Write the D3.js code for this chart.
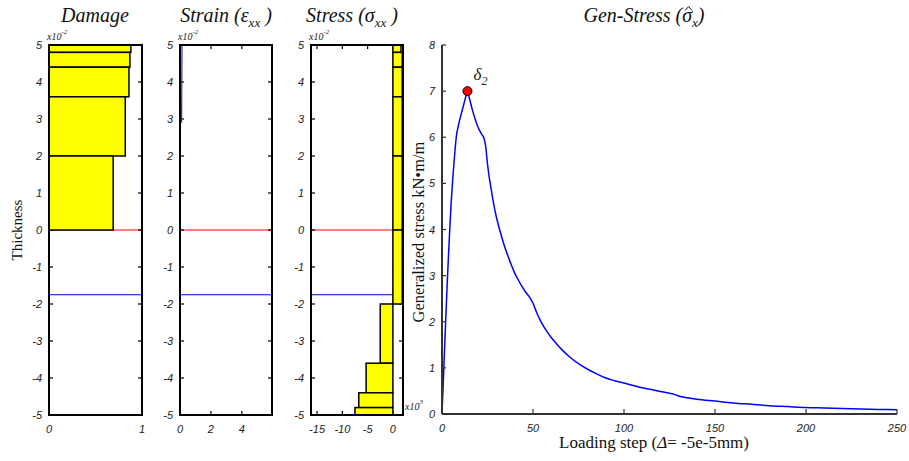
<!DOCTYPE html>
<html>
<head>
<meta charset="utf-8">
<script src="https://cdn.jsdelivr.net/npm/d3@7"></script>
<style>
  html, body { margin: 0; padding: 0; background: #fff; }
  svg { display: block; }
  .serif { font-family: "Liberation Serif", "Times New Roman", serif; }
  .tick { font-family: "Liberation Sans", Arial, sans-serif; font-style: italic; font-size: 11px; fill: #222; }
</style>
</head>
<body>
<svg id="chart" width="909" height="461"></svg>
<script>
// Layer boundaries through the thickness (x10^-2)
const layerTops    = [5.0, 4.8, 4.4, 3.6, 2.0, 0.0, -2.0, -3.6, -4.4, -4.8];
const layerBottoms = [4.8, 4.4, 3.6, 2.0, 0.0, -2.0, -3.6, -4.4, -4.8, -5.0];
// Damage per layer
const damageValues = [0.88, 0.87, 0.86, 0.82, 0.69, 0, 0, 0, 0, 0];
// Stress per layer (x10^3)
const stressValues = [1.6, 1.85, 1.85, 1.85, 1.85, 1.85, -2.5, -5.3, -6.75, -7.5];
// Strain profile near the top face
const strainDepth  = [5.0, 4.2, 3.4, 2.9];
const strainValues = [0.13, 0.12, 0.11, 0.1];
// Reference lines through the thickness
const midPlane = 0;
const neutralAxis = -1.75;

// Generalized stress vs loading step
const loadSteps = [0, 1, 2, 3, 4, 5, 6, 7, 8, 9, 10, 11, 12, 13, 14, 15, 16, 17, 18, 19, 20, 21, 22, 23, 24, 25, 26, 27, 28, 29, 30, 32, 34, 36, 38, 40, 42, 44, 46, 48, 50, 52, 54, 56, 58, 60, 63, 66, 70, 75, 80, 85, 90, 95, 100, 105, 110, 115, 120, 125, 128, 130, 135, 140, 150, 160, 170, 180, 190, 200, 210, 220, 230, 240, 250];
const genStress = [0, 1.0, 2.0, 2.95, 3.8, 4.55, 5.15, 5.65, 6.05, 6.25, 6.42, 6.57, 6.72, 6.87, 7.0, 6.85, 6.7, 6.55, 6.42, 6.3, 6.2, 6.12, 6.05, 5.99, 5.8, 5.42, 5.12, 4.88, 4.64, 4.43, 4.25, 3.95, 3.68, 3.45, 3.24, 3.05, 2.9, 2.76, 2.64, 2.54, 2.4, 2.2, 2.03, 1.89, 1.77, 1.66, 1.52, 1.39, 1.24, 1.09, 0.97, 0.87, 0.78, 0.72, 0.67, 0.62, 0.57, 0.53, 0.49, 0.45, 0.42, 0.39, 0.35, 0.32, 0.28, 0.24, 0.21, 0.18, 0.16, 0.14, 0.13, 0.12, 0.11, 0.1, 0.09];
const peakStep = 14, peakValue = 7.0;

const thicknessTicks = [5, 4, 3, 2, 1, 0, -1, -2, -3, -4, -5];
const damageTicks = [0, 1];
const strainTicks = [0, 2, 4];
const stressTicks = [-15, -10, -5, 0];
const stepTicks = [0, 50, 100, 150, 200, 250];
const genStressTicks = [0, 1, 2, 3, 4, 5, 6, 7, 8];

const svg = d3.select("#chart");
const plotTop = 45, plotBottom = 415;
const y = d3.scaleLinear().domain([-5, 5]).range([plotBottom, plotTop]);
const layers = layerTops.map((t, i) => ({ top: t, bottom: layerBottoms[i], damage: damageValues[i], stress: stressValues[i] }));

function panel(x0, x1, domain) {
  const g = svg.append("g");
  const x = d3.scaleLinear().domain(domain).range([x0, x1]);
  return { g, x };
}

function frame(p, xTicks, opts) {
  const { g, x } = p;
  const [x0, x1] = x.range();
  // reference lines
  g.append("line").attr("x1", x0).attr("x2", x1).attr("y1", y(midPlane)).attr("y2", y(midPlane))
    .attr("stroke", "#ff0000").attr("stroke-width", 1);
  g.append("line").attr("x1", x0).attr("x2", x1).attr("y1", y(neutralAxis)).attr("y2", y(neutralAxis))
    .attr("stroke", "#0000cc").attr("stroke-width", 1);
  // inward ticks on all four sides
  const tl = 4;
  thicknessTicks.forEach(t => {
    g.append("line").attr("x1", x0).attr("x2", x0 + tl).attr("y1", y(t)).attr("y2", y(t)).attr("stroke", "#000").attr("stroke-width", 1.2);
    g.append("line").attr("x1", x1).attr("x2", x1 - tl).attr("y1", y(t)).attr("y2", y(t)).attr("stroke", "#000").attr("stroke-width", 1.2);
    g.append("text").attr("class", "tick").attr("x", x0 - 7).attr("y", y(t) + 4).attr("text-anchor", "end").text(t);
  });
  xTicks.forEach(t => {
    g.append("line").attr("x1", x(t)).attr("x2", x(t)).attr("y1", plotTop).attr("y2", plotTop + tl).attr("stroke", "#000").attr("stroke-width", 1.2);
    g.append("line").attr("x1", x(t)).attr("x2", x(t)).attr("y1", plotBottom).attr("y2", plotBottom - tl).attr("stroke", "#000").attr("stroke-width", 1.2);
    g.append("text").attr("class", "tick").attr("x", x(t)).attr("y", plotBottom + 18).attr("text-anchor", "middle").text(t);
  });
  if (opts.content) opts.content(g, x);
  g.append("rect").attr("x", x0).attr("y", plotTop).attr("width", x1 - x0).attr("height", plotBottom - plotTop)
    .attr("fill", "none").attr("stroke", "#000").attr("stroke-width", 2);
  // exponent note
  const e = g.append("text").attr("class", "serif").attr("x", x0 - 2).attr("y", plotTop - 5)
    .attr("font-size", 10).attr("font-style", "italic").attr("fill", "#222");
  e.append("tspan").text("x10");
  e.append("tspan").attr("dy", -6).attr("font-size", 7).text("-2");
}

function title(cx, main, sym, sub) {
  const t = svg.append("text").attr("class", "serif").attr("x", cx).attr("y", 22)
    .attr("text-anchor", "middle").attr("font-size", 20).attr("font-style", "italic").attr("fill", "#111");
  t.append("tspan").text(main);
  if (sym) {
    t.append("tspan").text(" (" + sym);
    t.append("tspan").attr("dy", 5).attr("font-size", 13).text(sub);
    t.append("tspan").attr("dy", -5).text(" )");
  }
  return t;
}

// Damage
const damage = panel(49, 142, [0, 1]);
frame(damage, damageTicks, {
  content: (g, x) => {
    g.selectAll("rect.bar").data(layers.filter(d => d.damage > 0)).join("rect").attr("class", "bar")
      .attr("x", x(0)).attr("width", d => x(d.damage) - x(0))
      .attr("y", d => y(d.top)).attr("height", d => y(d.bottom) - y(d.top))
      .attr("fill", "#ffff00").attr("stroke", "#000").attr("stroke-width", 1.5);
  }
});
title(95, "Damage");

// Strain
const strain = panel(180, 272, [0, 5.95]);
frame(strain, strainTicks, {
  content: (g, x) => {
    g.append("path").datum(strainDepth.map((d, i) => [strainValues[i], d]))
      .attr("d", d3.line().x(d => x(d[0])).y(d => y(d[1])))
      .attr("fill", "none").attr("stroke", "#3030b0").attr("stroke-width", 1.2);
  }
});
title(226, "Strain", "\u03b5", "xx");

// Stress
const stress = panel(311, 403, [-16.2, 2]);
frame(stress, stressTicks, {
  content: (g, x) => {
    g.selectAll("rect.bar").data(layers).join("rect").attr("class", "bar")
      .attr("x", d => x(Math.min(0, d.stress))).attr("width", d => Math.abs(x(d.stress) - x(0)))
      .attr("y", d => y(d.top)).attr("height", d => y(d.bottom) - y(d.top))
      .attr("fill", "#ffff00").attr("stroke", "#000").attr("stroke-width", 1.5);
  }
});
title(352, "Stress", "\u03c3", "xx");
{
  const e = svg.append("text").attr("class", "serif").attr("x", 405).attr("y", 410)
    .attr("font-size", 10).attr("font-style", "italic").attr("fill", "#222");
  e.append("tspan").text("x10");
  e.append("tspan").attr("dy", -6).attr("font-size", 7).text("3");
}

// Thickness label
svg.append("text").attr("class", "serif").attr("transform", "translate(22,230) rotate(-90)")
  .attr("text-anchor", "middle").attr("font-size", 15).attr("fill", "#111").text("Thickness");

// Generalized stress curve
const gx = d3.scaleLinear().domain([0, 250]).range([442, 897]);
const gy = d3.scaleLinear().domain([0, 8]).range([414, 45]);
const gg = svg.append("g");
gg.append("path").datum(loadSteps.map((s, i) => [s, genStress[i]]))
  .attr("d", d3.line().x(d => gx(d[0])).y(d => gy(d[1])).curve(d3.curveMonotoneX))
  .attr("fill", "none").attr("stroke", "#0000ff").attr("stroke-width", 1.5);

const axisColor = "#333";
gg.append("line").attr("x1", gx(0)).attr("x2", gx(0)).attr("y1", gy(8)).attr("y2", gy(0)).attr("stroke", axisColor).attr("stroke-width", 2);
gg.append("line").attr("x1", gx(0)).attr("x2", gx(250)).attr("y1", gy(0)).attr("y2", gy(0)).attr("stroke", axisColor).attr("stroke-width", 2);
genStressTicks.forEach(t => {
  gg.append("line").attr("x1", gx(0)).attr("x2", gx(0) + 4).attr("y1", gy(t)).attr("y2", gy(t)).attr("stroke", axisColor).attr("stroke-width", 1.2);
  gg.append("text").attr("class", "tick").attr("x", gx(0) - 7).attr("y", gy(t) + 4).attr("text-anchor", "end").text(t);
});
stepTicks.forEach(t => {
  gg.append("line").attr("x1", gx(t)).attr("x2", gx(t)).attr("y1", gy(0)).attr("y2", gy(0) - 5).attr("stroke", axisColor).attr("stroke-width", 1.2);
  gg.append("text").attr("class", "tick").attr("x", gx(t)).attr("y", gy(0) + 18).attr("text-anchor", "middle").text(t);
});

// Peak marker
gg.append("circle").attr("cx", gx(peakStep)).attr("cy", gy(peakValue)).attr("r", 4.5)
  .attr("fill", "#ff0000").attr("stroke", "#000").attr("stroke-width", 1);
{
  const t = gg.append("text").attr("class", "serif").attr("x", gx(peakStep) + 6).attr("y", gy(peakValue) - 11)
    .attr("font-size", 17).attr("font-style", "italic").attr("fill", "#222");
  t.append("tspan").text("\u03b4");
  t.append("tspan").attr("dy", 5).attr("font-size", 12).text("2");
}

// Gen-stress title, with a hat stroked above sigma
{
  const t = svg.append("text").attr("class", "serif").attr("x", 644).attr("y", 22)
    .attr("text-anchor", "middle").attr("font-size", 20).attr("font-style", "italic").attr("fill", "#111");
  t.append("tspan").text("Gen-Stress (\u03c3");
  t.append("tspan").attr("dy", 5).attr("font-size", 13).text("x");
  t.append("tspan").attr("dy", -5).text(")");
  const node = t.node();
  const idx = "Gen-Stress (".length;
  const p = node.getStartPositionOfChar(idx);
  const w = node.getSubStringLength(idx, 1);
  const cx = p.x + w / 2 + 1.5;
  svg.append("path").attr("d", `M${cx - 3.5},10.5 L${cx},6.5 L${cx + 3.5},10.5`)
    .attr("fill", "none").attr("stroke", "#111").attr("stroke-width", 1);
}
svg.append("text").attr("class", "serif").attr("transform", "translate(424,232) rotate(-90)")
  .attr("text-anchor", "middle").attr("font-size", 16.5).attr("fill", "#111").text("Generalized stress kN\u2022m/m");
{
  const t = svg.append("text").attr("class", "serif").attr("x", 654).attr("y", 448)
    .attr("text-anchor", "middle").attr("font-size", 17).attr("fill", "#111");
  t.append("tspan").text("Loading step (");
  t.append("tspan").attr("font-style", "italic").text("\u0394");
  t.append("tspan").text("= -5e-5mm)");
}
</script>
</body>
</html>
